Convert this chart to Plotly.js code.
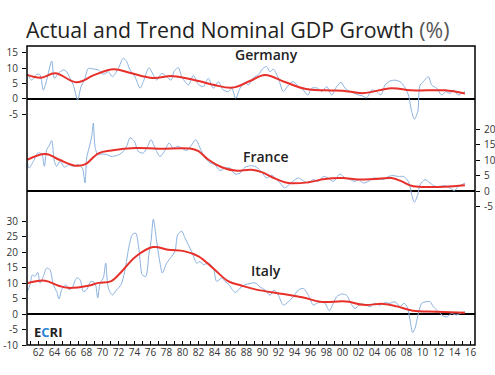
<!DOCTYPE html>
<html>
<head>
<meta charset="utf-8">
<script src="https://cdn.plot.ly/plotly-3.0.1.min.js"></script>
<style>html,body{margin:0;padding:0;background:#fff;}#chart{width:495px;height:375px;}</style>
</head>
<body>
<div id="chart"></div>
<script>
// ---------- DATA ----------
var deYears = [1960.6,1961.15,1961.77,1962.19,1962.6,1963.02,1963.65,1963.98,1964.48,1965.1,1965.52,1965.94,1966.35,1966.9,1967.31,1967.73,1968.23,1968.85,1969.48,1970.1,1970.73,1971.23,1971.98,1972.6,1973.02,1973.44,1974.06,1974.69,1975.1,1975.81,1976.35,1976.77,1977.4,1978.02,1978.56,1978.98,1979.48,1979.9,1980.31,1980.73,1981.35,1981.98,1982.6,1983.23,1983.85,1984.48,1985.1,1985.73,1986.15,1986.65,1987.19,1987.81,1988.23,1988.85,1989.48,1989.98,1990.52,1990.94,1991.35,1991.98,1992.6,1993.23,1993.85,1994.48,1994.9,1995.65,1996.15,1996.9,1997.4,1998.02,1998.65,1999.27,1999.81,2000.31,2000.94,2001.56,2001.98,2002.4,2003.02,2003.65,2004.27,2004.81,2005.31,2005.94,2006.56,2007.19,2007.73,2008.23,2008.65,2008.98,2009.4,2009.69,2010.1,2010.73,2011.15,2011.77,2012.4,2012.9,2013.44,2013.85,2014.48,2014.9,2015.31];
var deActual = [8.3,6.1,8.0,7.8,2.9,6.1,12.3,6.7,8.3,9.4,8.8,6.7,4.5,-0.3,4.0,6.1,9.9,9.7,9.4,8.0,8.8,7.2,9.9,13.2,12.1,9.4,7.2,3.5,5.6,10.1,7.8,6.1,8.3,7.2,6.1,9.1,10.1,7.2,5.6,4.5,7.6,4.7,4.0,6.7,3.5,5.6,2.9,2.4,3.5,0.2,3.5,5.4,4.5,6.9,7.8,9.7,10.5,8.8,9.7,6.7,2.4,4.5,5.6,4.0,3.5,1.3,3.5,3.5,2.4,4.0,1.3,4.0,5.4,3.5,2.4,1.8,1.3,1.1,0.4,2.9,2.4,1.3,4.5,5.8,6.1,5.6,4.0,1.3,-4.1,-6.5,-4.1,4.5,5.6,7.2,4.5,3.5,1.3,2.4,1.8,2.9,1.3,1.8,2.4];
var deTrendYears = [1960.6,1962.3,1964.1,1966.8,1969.0,1971.4,1973.5,1976.3,1978.8,1982.0,1984.0,1986.3,1988.5,1990.3,1992.8,1995.3,1997.8,2000.0,2002.6,2006.1,2008.5,2010.5,2012.8,2015.3];
var deTrend = [7.8,6.9,8.3,5.4,7.8,9.6,8.4,6.8,7.4,5.8,4.5,3.7,5.9,7.8,5.5,3.3,2.8,2.7,1.9,3.5,2.8,2.8,2.8,1.8];

var frYears = [1960.6,1960.81,1961.35,1961.9,1962.4,1962.73,1963.02,1963.31,1963.65,1963.98,1964.27,1964.69,1965.23,1965.73,1966.35,1966.98,1967.48,1967.81,1968.02,1968.31,1968.65,1968.85,1969.06,1969.4,1969.9,1970.52,1971.06,1971.77,1972.4,1973.02,1973.44,1973.98,1974.48,1975.1,1975.65,1976.06,1976.56,1977.19,1977.73,1978.31,1978.85,1979.4,1979.9,1980.52,1981.15,1981.65,1982.19,1982.81,1983.44,1984.06,1984.69,1985.31,1985.94,1986.56,1987.19,1987.81,1988.65,1989.27,1989.9,1990.52,1991.15,1991.77,1992.19,1992.73,1993.23,1993.85,1994.48,1995.1,1995.73,1996.35,1996.98,1997.6,1998.23,1998.85,1999.69,2000.31,2000.94,2001.56,2001.98,2002.6,2003.23,2003.85,2004.48,2005.1,2005.73,2006.35,2006.98,2007.6,2008.23,2008.65,2008.98,2009.4,2009.69,2010.31,2010.94,2011.56,2012.19,2012.81,2013.44,2013.98,2014.48,2014.9,2015.31];
var frActual = [9.6,7.4,9.6,12.3,12.0,8.0,13.4,14.5,16.3,9.6,8.0,9.6,7.7,8.5,8.0,8.5,7.4,2.6,10.7,13.9,17.7,22.0,14.5,11.8,12.0,11.8,11.2,11.5,12.3,14.5,17.2,16.1,12.8,12.3,14.5,16.6,13.9,11.2,12.8,15.5,13.9,14.5,13.9,13.1,15.0,16.6,13.9,10.7,9.1,8.5,6.6,7.4,7.4,5.5,5.8,7.7,8.2,7.7,6.1,4.2,5.1,3.7,2.6,1.0,1.8,3.3,4.2,3.3,2.6,3.7,3.1,4.7,4.2,3.1,5.5,4.2,3.7,3.1,3.7,2.6,3.1,4.2,4.0,3.7,4.7,5.0,4.7,4.7,3.1,-1.2,-3.6,-1.2,2.0,3.7,2.6,1.5,1.5,1.7,1.0,0.1,1.5,2.0,2.6];
var frTrendYears = [1960.6,1962.9,1964.6,1966.6,1967.8,1969.5,1971.1,1974.1,1977.0,1981.1,1982.0,1983.2,1984.9,1986.6,1988.6,1989.9,1991.6,1993.2,1995.7,1997.8,2000.0,2002.0,2004.0,2006.1,2007.4,2008.6,2010.3,2012.8,2015.3];
var frTrend = [10.1,12.0,10.1,8.2,8.6,12.2,13.1,13.9,13.7,13.7,12.9,10.2,7.7,6.6,6.9,6.1,4.0,2.6,2.8,3.9,4.2,3.7,3.9,4.2,3.1,1.7,1.3,1.4,1.9];

var itYears = [1960.6,1960.94,1961.23,1961.56,1961.9,1962.19,1962.6,1963.02,1963.44,1963.85,1964.27,1964.56,1964.9,1965.4,1965.81,1966.23,1966.77,1967.19,1967.6,1968.02,1968.56,1969.06,1969.4,1969.69,1970.1,1970.4,1970.73,1971.23,1971.77,1972.31,1972.81,1973.31,1973.73,1974.15,1974.56,1974.98,1975.4,1975.81,1976.06,1976.35,1976.77,1977.19,1977.48,1978.02,1978.65,1979.06,1979.4,1979.9,1980.31,1980.73,1981.23,1981.77,1982.19,1982.6,1983.23,1983.85,1984.27,1984.9,1985.31,1985.81,1986.23,1986.65,1987.19,1987.81,1988.44,1989.06,1989.69,1990.31,1990.94,1991.44,1991.98,1992.6,1993.23,1993.85,1994.48,1995.1,1995.73,1996.35,1996.77,1997.4,1997.81,1998.35,1998.85,1999.27,1999.9,2000.52,2000.94,2001.56,2002.19,2002.81,2003.44,2004.06,2004.69,2005.31,2005.94,2006.56,2007.19,2007.69,2008.1,2008.44,2008.77,2009.06,2009.48,2009.9,2010.44,2010.94,2011.35,2011.98,2012.6,2013.02,2013.65,2014.19,2014.69,2015.31];
var itActual = [7.3,9.5,12.7,12.2,13.5,10.0,12.2,14.9,14.3,9.5,7.3,4.9,7.9,9.5,7.9,8.7,11.7,11.1,7.3,7.9,10.6,10.0,5.2,10.0,11.7,16.5,8.4,6.2,7.9,9.5,14.3,21.9,25.7,26.2,20.8,12.7,12.2,19.7,23.5,30.7,23.5,16.5,13.3,16.5,18.7,20.3,25.7,26.8,24.6,22.4,19.7,16.5,17.0,16.0,16.5,14.9,10.6,11.7,10.6,9.5,7.9,7.0,8.4,9.5,9.9,10.1,8.8,7.8,6.1,7.8,6.1,2.9,4.0,5.6,7.8,8.3,6.1,2.9,3.5,4.0,3.5,1.1,3.5,5.6,6.5,6.1,4.0,1.8,3.2,3.1,2.4,3.5,2.9,3.7,3.5,4.0,2.4,3.5,2.2,-1.9,-6.0,-4.6,0.2,3.5,4.0,4.0,2.4,0.8,-0.6,-0.9,0.2,-0.3,0.2,0.8];
var itTrendYears = [1960.6,1962.8,1964.5,1965.7,1968.2,1969.5,1971.1,1972.4,1974.1,1976.3,1978.2,1980.3,1982.0,1984.0,1985.7,1987.4,1989.1,1992.6,1995.1,1997.2,2000.5,2002.6,2005.1,2006.8,2008.8,2011.8,2015.3];
var itTrend = [10.0,10.8,9.2,8.5,9.2,10.1,10.7,13.8,18.5,21.7,20.8,20.3,18.7,14.4,10.7,9.2,8.0,6.5,5.4,4.0,4.1,3.0,3.3,2.5,1.1,0.8,0.4];

var xTickYears = [1962,1964,1966,1968,1970,1972,1974,1976,1978,1980,1982,1984,1986,1988,1990,1992,1994,1996,1998,2000,2002,2004,2006,2008,2010,2012,2014,2016];
var xTickLabels = ['62','64','66','68','70','72','74','76','78','80','82','84','86','88','90','92','94','96','98','00','02','04','06','08','10','12','14','16'];
var deTicks = [-5,0,5,10,15];
var frTicks = [-5,0,5,10,15,20];
var itTicks = [-10,-5,0,5,10,15,20,25,30];
var panelNames = ['Germany','France','Italy'];

// ---------- STYLE ----------
var blue = '#8ab2e0', red = '#e8302a';
function actual(x, y, ax) {
  return {x: x, y: y, yaxis: ax, type: 'scatter', mode: 'lines',
    line: {color: blue, width: 1, shape: 'spline', smoothing: 0.8}, hoverinfo: 'skip'};
}
function trend(x, y, ax) {
  return {x: x, y: y, yaxis: ax, type: 'scatter', mode: 'lines',
    line: {color: red, width: 2, shape: 'spline', smoothing: 1.1}, hoverinfo: 'skip'};
}
var data = [
  actual(deYears, deActual, 'y'), trend(deTrendYears, deTrend, 'y'),
  actual(frYears, frActual, 'y2'), trend(frTrendYears, frTrend, 'y2'),
  actual(itYears, itActual, 'y3'), trend(itTrendYears, itTrend, 'y3')
];
var tickFont = {family: 'Open Sans, sans-serif', size: 10, color: '#333'};
function yax(ticks, range, side, over) {
  var a = {range: range, tickmode: 'array', tickvals: ticks, ticktext: ticks.map(String),
    side: side, showgrid: false, zeroline: true, zerolinecolor: '#000', zerolinewidth: 1.5,
    ticks: 'outside', ticklen: 4, tickcolor: '#000', tickwidth: 1, showline: false,
    tickfont: tickFont, fixedrange: true, ticklabelstandoff: 2};
  if (over) a.overlaying = over;
  return a;
}
var pxPerUnit = 3.09, plotH = 299;
var span = plotH / pxPerUnit;
var labelFont = {family: 'Open Sans, sans-serif', size: 14, color: '#222', weight: 600};
function panelLabel(txt, yPx) {
  return {text: txt, xref: 'paper', yref: 'paper', x: (266-27)/448, y: 1 - (yPx-46)/299,
    xanchor: 'center', yanchor: 'middle', showarrow: false, font: labelFont};
}
var layout = {
  width: 495, height: 375,
  margin: {l: 27, r: 20, t: 46, b: 30},
  paper_bgcolor: '#fff', plot_bgcolor: '#fff',
  showlegend: false,
  title: {text: 'Actual and Trend Nominal GDP Growth <span style="color:#555">(%)</span>',
    x: 26/495, xanchor: 'left', xref: 'container', y: 1 - 31/375, yanchor: 'middle', yref: 'container',
    font: {family: 'Open Sans, sans-serif', size: 21.3, color: '#222'}},
  xaxis: {range: [1960.56, 2016.56], tickmode: 'array', tickvals: xTickYears, ticktext: xTickLabels,
    ticks: 'inside', ticklen: 4, tickcolor: '#000', showgrid: false, zeroline: false, showline: false,
    tickfont: tickFont, fixedrange: true,
    minor: {tickmode: 'linear', tick0: 1961, dtick: 1, ticks: 'inside', ticklen: 4, tickcolor: '#000', showgrid: false}},
  yaxis: yax(deTicks, [17.15 - span, 17.15], 'left'),
  yaxis2: yax(frTicks, [46.93 - span, 46.93], 'right', 'y'),
  yaxis3: yax(itTicks, [-10, -10 + span], 'left', 'y'),
  shapes: [{type: 'rect', xref: 'paper', yref: 'paper', x0: 0, x1: 1, y0: 0, y1: 1,
    line: {color: '#000', width: 1.5}, fillcolor: 'rgba(0,0,0,0)'}],
  annotations: [
    panelLabel(panelNames[0], 55),
    panelLabel(panelNames[1], 156),
    panelLabel(panelNames[2], 270),
    {text: '<b>E<span style="color:#2b86d6">C</span>RI</b>', xref: 'paper', yref: 'paper',
      x: (32-27)/448, xanchor: 'left', y: 1 - (332-46)/299, yanchor: 'middle', showarrow: false,
      font: {family: 'Open Sans, sans-serif', size: 13, color: '#222'}}
  ]
};
Plotly.newPlot('chart', data, layout, {staticPlot: true, displayModeBar: false});
</script>
</body>
</html>
